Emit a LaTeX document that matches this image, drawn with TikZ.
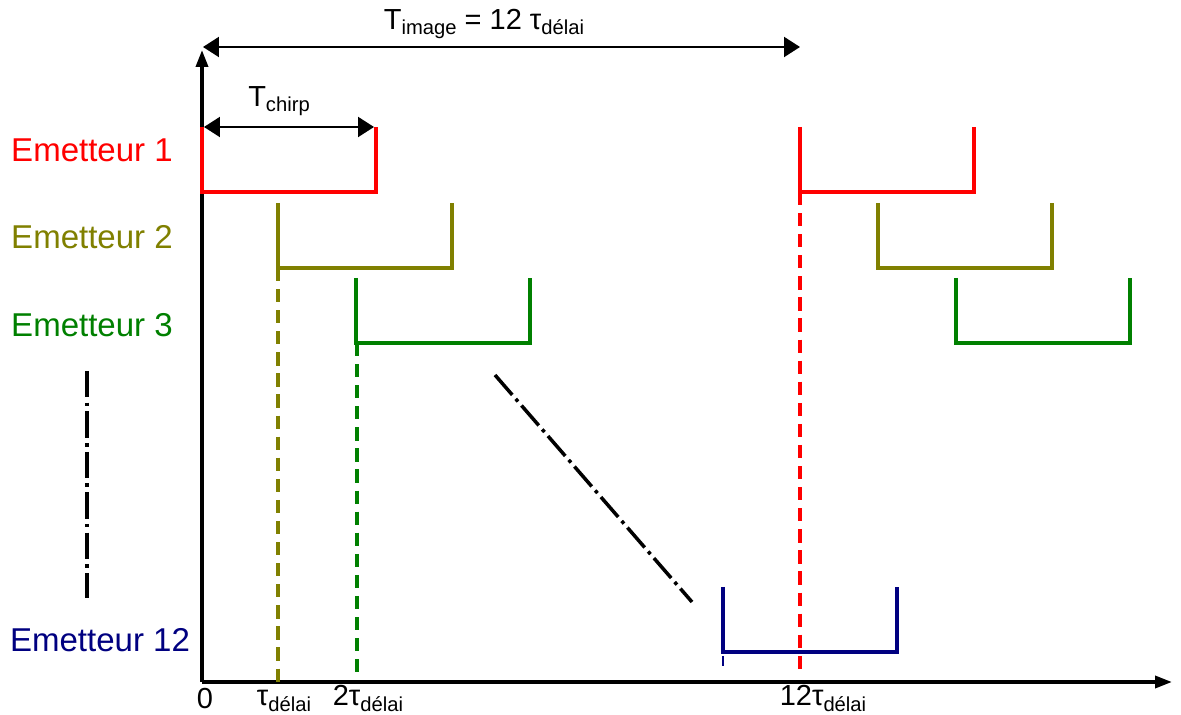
\documentclass[tikz,border=0pt]{standalone}
\usepackage{fontspec}
\setmainfont{Liberation Sans}
\usepackage{tikz}
\usetikzlibrary{arrows.meta,positioning}
\definecolor{emred}{rgb}{1.00,0.00,0.00}
\definecolor{emolive}{rgb}{0.50,0.50,0.00}
\definecolor{emgreen}{rgb}{0.00,0.50,0.00}
\definecolor{emnavy}{rgb}{0.00,0.00,0.50}
\newcommand{\lowtxt}[1]{\raisebox{-0.35ex}{\fontsize{11.5}{13}\selectfont #1}}

\begin{document}
\begin{tikzpicture}[x=0.02cm,y=-0.02cm,font=\fontsize{16.5}{19}\selectfont,
   pulse/.style={line width=2.1pt},
   lab/.style={font=\fontsize{18.8}{22}\selectfont,inner sep=0pt},
   tick/.style={anchor=base,inner sep=0pt},
   dimarrow/.style={{Triangle[length=3.2mm,width=4mm]}-{Triangle[length=3.2mm,width=4mm]},line width=1.2pt},
   axis/.style={-{Triangle[length=3.4mm,width=2.4mm]},line width=2pt},
   guide/.style={line width=2pt,dash pattern=on 7.5pt off 4.5pt},
   dotdash/.style={line width=2pt,dash pattern=on 15pt off 3pt on 2pt off 3pt}]
  \useasboundingbox (0,0) rectangle (1181,715);
  % axes
  \coordinate (o) at (202,682);
  \draw[axis] (o) -- (202,50);
  \draw[axis] (o) -- (1172,682);
  % durations
  \coordinate (i0) at (203,47);
  \coordinate (i1) at (800,47);
  \draw[dimarrow] (i0) -- (i1);
  \node (timg) at (484,24) {T\lowtxt{image} = 12 τ\lowtxt{délai}};
  \coordinate (c0) at (204,127);
  \coordinate (c1) at (374,127);
  \draw[dimarrow] (c0) -- (c1);
  \node (tchirp) at (279,101) {T\lowtxt{chirp}};
  % delay marks
  \draw[guide,emolive] (278,268) -- (278,682);
  \draw[guide,emgreen] (357,343) -- (357,676);
  \draw[guide,emred] (800,192) -- (800,670);
  \draw[emnavy,line width=1.2pt] (723,656) -- (723,666);
  % chirps
  \foreach \x/\y/\c in {202/127/emred,800/127/emred,278/203/emolive,878/203/emolive,
                        356/278/emgreen,956/278/emgreen,723/587/emnavy}
    \draw[pulse,\c] (\x,\y) -- ++(0,65) -- ++(174,0) -- ++(0,-65);
  % emitters
  \node[lab,emred]   (e1)  at (92,150) {Emetteur 1};
  \node[lab,emolive] (e2)  at (92,237) {Emetteur 2};
  \node[lab,emgreen] (e3)  at (92,325) {Emetteur 3};
  \node[lab,emnavy]  (e12) at (100,640) {Emetteur 12};
  \draw[dotdash] (87,371) -- (87,598);
  \draw[dotdash] (495,375) -- (692,602);
  % time labels
  \node[tick] (l0)  at (205,709) {0};
  \node[tick] (l1)  at (284,706) {τ\lowtxt{délai}};
  \node[tick] (l2)  at (368,706) {2τ\lowtxt{délai}};
  \node[tick] (l12) at (823,706) {12τ\lowtxt{délai}};
\end{tikzpicture}
\end{document}
